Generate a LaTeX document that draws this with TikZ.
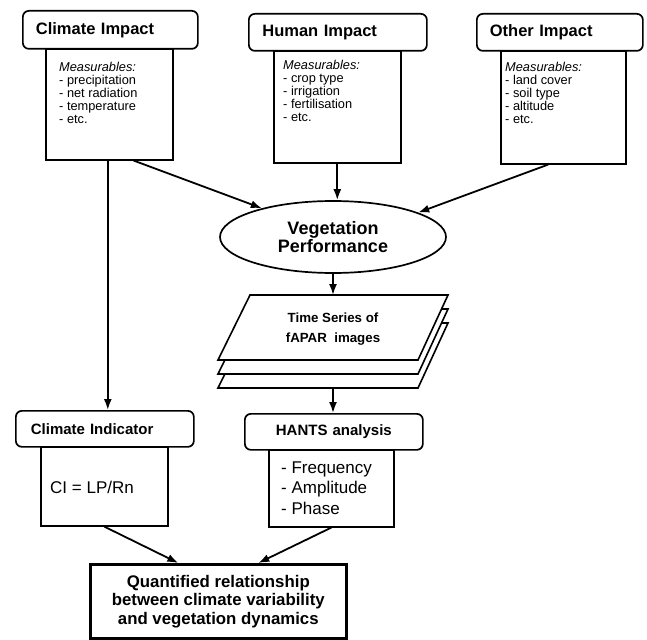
\documentclass[tikz,border=0pt]{standalone}
\usepackage{fontspec}
\setmainfont{Liberation Sans}
\usetikzlibrary{shapes.geometric,arrows.meta,calc}
\begin{document}
\begin{tikzpicture}[x=1pt,y=-1pt,
  titlebox/.style={draw, line width=1.7pt, rounded corners=6pt, fill=white,
    inner xsep=13pt, inner ysep=0pt, align=left, anchor=north west,
    font=\fontsize{16.5pt}{19pt}\selectfont\bfseries},
  smalltitle/.style={titlebox, font=\fontsize{15pt}{18pt}\selectfont\bfseries},
  bodybox/.style={draw, line width=1.6pt, fill=white, inner sep=0pt, anchor=north west},
  meas/.style={inner sep=0pt, anchor=west, align=left,
    font=\fontsize{12.8pt}{13.2pt}\selectfont},
  bigtext/.style={inner sep=0pt, align=left,
    font=\fontsize{17pt}{20.5pt}\selectfont},
  arr/.style={-{Latex[length=11pt,width=8pt]}, line width=1.8pt},
  sheet/.style={draw, line width=1.6pt, fill=white, line join=miter}
]
\useasboundingbox (0,0) rectangle (647,639);

% --- top row: impacts
\node[bodybox, minimum width=127pt, minimum height=111pt] (cmb) at (45,48) {};
\node[titlebox, minimum width=175pt, minimum height=38pt, text width=149pt] (cit) at (22,10) {Climate Impact};
\node[meas] (cmt) at (59,93) {\textit{Measurables:}\\- precipitation\\- net radiation\\- temperature\\- etc.};

\node[bodybox, minimum width=127pt, minimum height=112pt] (hmb) at (273,50) {};
\node[titlebox, minimum width=178pt, minimum height=37pt, text width=151pt, inner xsep=13.5pt] (hit) at (248,13) {Human Impact};
\node[meas] (hmt) at (283,91) {\textit{Measurables:}\\- crop type\\- irrigation\\- fertilisation\\- etc.};

\node[bodybox, minimum width=125pt, minimum height=113pt] (omb) at (500,50) {};
\node[titlebox, minimum width=166pt, minimum height=37pt, text width=140pt] (oit) at (476,13) {Other Impact};
\node[meas] (omt) at (505,93) {\textit{Measurables:}\\- land cover\\- soil type\\- altitude\\- etc.};

% --- vegetation performance
\node[ellipse, draw, line width=1.7pt, minimum width=226pt, minimum height=72pt, inner sep=0pt,
  align=center, font=\fontsize{18pt}{18pt}\selectfont\bfseries] (ve) at (333,237) {Vegetation\\Performance};

% --- stack of fAPAR images
\foreach \s in {28,14,0}{
  \path[sheet] (250,295+\s) -- (448,295+\s) -- (418,360+\s) -- (218,360+\s) -- cycle;
}
\coordinate (stop) at (333,295);
\coordinate (sbot) at (333,388);
\node[align=center, inner sep=0pt, font=\fontsize{13.3pt}{20pt}\selectfont\bfseries] (ts) at (333,329) {Time Series of\\fAPAR\ \ images};

% --- second row
\node[bodybox, minimum width=127pt, minimum height=79pt] (cib) at (40,446) {};
\node[smalltitle, minimum width=178pt, minimum height=36pt, text width=148pt, inner xsep=15pt] (cit2) at (15,410) {Climate Indicator};
\node[bigtext, anchor=center] (cie) at (92,487) {CI = LP/Rn};

\node[bodybox, minimum width=125pt, minimum height=77pt] (hb) at (268,449) {};
\node[smalltitle, minimum width=178pt, minimum height=36pt, text width=152pt, align=center] (hat) at (244,413) {HANTS analysis};
\node[bigtext, anchor=west] (hbt) at (281,488) {- Frequency\\- Amplitude\\- Phase};

% --- result
\node[draw, line width=2.6pt, fill=white, anchor=north west, minimum width=256pt, minimum height=74pt,
  inner sep=0pt, align=center, font=\fontsize{16.8pt}{18.5pt}\selectfont\bfseries] (qb) at (89,563)
  {Quantified relationship\\between climate variability\\and vegetation dynamics};

% --- connectors
\draw[arr] ($(cmb.south west)!0.69!(cmb.south east)$) -- (ve.158);
\draw[arr] (hmb.south) -- (hmb.south |- ve.north);
\draw[arr] ($(omb.south west)!0.38!(omb.south east)$) -- (ve.16);
\draw[arr] ($(cmb.south)+(-1.5,0)$) -- ($(cmb.south |- cit2.north)+(-1.5,0)$);
\draw[arr] (ve.south) -- (stop);
\draw[arr] (sbot) -- (sbot |- hat.north);
\draw[arr] (cib.south) -- ($(qb.north)+(-40,0)$);
\draw[arr] (hb.south) -- ($(qb.north)+(40,0)$);
\end{tikzpicture}
\end{document}
